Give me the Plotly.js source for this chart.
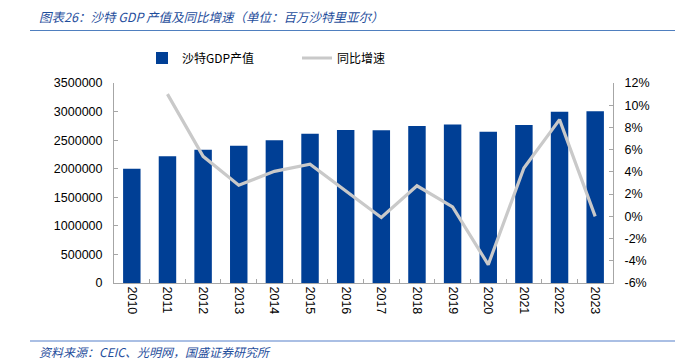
<!DOCTYPE html>
<html><head><meta charset="utf-8">
<script src="https://cdn.plot.ly/plotly-3.0.1.min.js"></script>
<style>html,body{margin:0;padding:0;background:#fff}#c{width:688px;height:361px}</style>
</head><body><div id="c"></div>
<script>
const years = ['2010','2011','2012','2013','2014','2015','2016','2017','2018','2019','2020','2021','2022','2023'];
const gdp = [2000000,2217000,2334000,2404000,2497000,2614000,2677000,2672000,2747000,2772000,2649000,2765000,2999000,3005000];
const growth = [null,11.0,5.4,2.8,4.05,4.7,2.3,-0.1,2.75,0.85,-4.35,4.35,8.7,0.0];
const leftTicks = [0,500000,1000000,1500000,2000000,2500000,3000000,3500000];
const rightTicks = [-6,-4,-2,0,2,4,6,8,10,12];

const tickFont = {family:'"Liberation Sans Narrow","Liberation Sans",Arial,sans-serif', size:12.5, color:'#000'};
const cjk = '"Noto Sans CJK SC","Noto Sans",sans-serif';

const L = 114, T = 83, W = 499, H = 200;
const px = x => (x - L) / W;
const py = y => (T + H - y) / H;

const data = [
  {type:'bar', name:'沙特GDP产值', x:years, y:gdp, marker:{color:'#003f95'}, yaxis:'y'},
  {type:'scatter', mode:'lines', name:'同比增速', x:years, y:growth.map(v=>v===null?null:v/100),
   line:{color:'#c9c9c9', width:3.2}, yaxis:'y2', connectgaps:false}
];
const layout = {
  width:688, height:361,
  margin:{l:L, r:688-L-W, t:T, b:361-T-H},
  paper_bgcolor:'rgba(0,0,0,0)', plot_bgcolor:'#fff',
  bargap:0.51,
  showlegend:true,
  legend:{orientation:'h', x:px(142), xanchor:'left', y:py(58), yanchor:'middle', bgcolor:'rgba(0,0,0,0)',
    font:{family:cjk, size:12, color:'#000'}, entrywidth:110, itemwidth:30},
  xaxis:{type:'category', tickangle:90, tickfont:tickFont, showline:true, linecolor:'#a6a6a6', linewidth:1,
    ticks:'inside', ticklen:4, tickcolor:'#a6a6a6', tickson:'boundaries', showgrid:false, zeroline:false},
  yaxis:{range:[0,3500000], tickvals:leftTicks, ticktext:leftTicks.map(String), tickfont:tickFont,
    showline:true, linecolor:'#a6a6a6', ticks:'inside', ticklen:4, tickcolor:'#a6a6a6', showgrid:false, zeroline:false,
    ticklabelstandoff:8},
  yaxis2:{overlaying:'y', side:'right', range:[-0.06,0.12], tickvals:rightTicks.map(v=>v/100),
    ticktext:rightTicks.map(v=>v+'%'), tickfont:tickFont, showline:true, linecolor:'#a6a6a6',
    ticks:'inside', ticklen:4, tickcolor:'#a6a6a6', showgrid:false, zeroline:false, ticklabelstandoff:8},
  shapes:[
    {type:'line', xref:'paper', yref:'paper', x0:px(30), x1:px(675), y0:py(30.5), y1:py(30.5), line:{color:'#4f7fbf', width:1.2}},
    {type:'line', xref:'paper', yref:'paper', x0:px(30), x1:px(675), y0:py(341), y1:py(341), line:{color:'#8eaadb', width:1.5}}
  ],
  annotations:[
    {xref:'paper', yref:'paper', x:px(37), y:py(17), xanchor:'left', yanchor:'middle', showarrow:false,
     text:'<i>图表26：沙特 GDP 产值及同比增速（单位：百万沙特里亚尔）</i>', font:{family:cjk, size:12.5, color:'#1f4e9c'}},
    {xref:'paper', yref:'paper', x:px(37), y:py(351), xanchor:'left', yanchor:'middle', showarrow:false,
     text:'<i>资料来源：CEIC、光明网，国盛证券研究所</i>', font:{family:cjk, size:12, color:'#1f4e9c'}}
  ]
};
Plotly.newPlot('c', data, layout, {displayModeBar:false, staticPlot:true});
</script></body></html>
